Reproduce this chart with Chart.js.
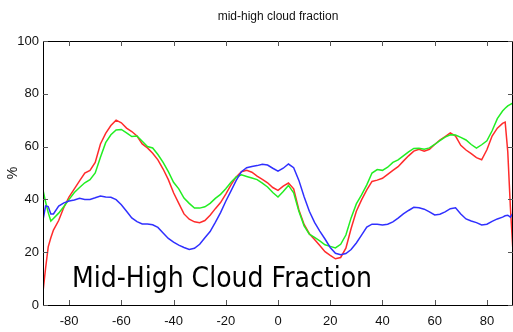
<!DOCTYPE html>
<html>
<head>
<meta charset="utf-8">
<script src="https://cdn.jsdelivr.net/npm/chart.js@4.4.1/dist/chart.umd.min.js"></script>
<style>
  html, body { margin: 0; padding: 0; background: #fff; }
  #wrap { width: 513px; height: 332px; }
</style>
</head>
<body>
<div id="wrap"><canvas id="chart" width="513" height="332"></canvas></div>
<script>
// latitude grid (degrees)
const lats = [-90, -89, -88, -87, -86, -84, -82, -80, -78, -76, -74, -72, -70, -68, -66, -64, -62, -60, -58, -56,
  -54, -52, -50, -48, -46, -44, -42, -40, -38, -36, -34, -32, -30, -28, -26, -24, -22, -20, -18, -16,
  -14, -12, -10, -8, -6, -4, -2, 0, 2, 4, 6, 8, 10, 12, 14, 16, 18, 20, 22, 24,
  26, 28, 30, 32, 34, 36, 38, 40, 42, 44, 46, 48, 50, 52, 54, 56, 58, 60, 62, 64,
  66, 68, 70, 72, 74, 76, 78, 80, 82, 84, 86, 87, 88, 89, 90];

const redSeries = [5, 14, 22, 25.5, 28.4, 32, 37, 41, 44, 47, 50, 51, 54, 61, 65, 68, 70, 69, 67, 65.7,
  64, 61, 59.5, 57.5, 55, 51.5, 47.5, 42.5, 38.5, 34.5, 32.5, 31.5, 31.2, 32, 34, 36.5, 38.8, 42, 45.5, 48.5,
  50.5, 51, 50.3, 48.8, 47.6, 46.3, 44.5, 43.4, 45, 46.2, 44, 36, 30.5, 27, 24.8, 22.5, 20.2, 18.8, 17.5, 18,
  21.5, 29, 35.5, 39.8, 43.6, 46.8, 47.3, 48, 49.5, 51, 52.4, 54.5, 56.5, 58.3, 59, 58.3, 59, 60.8, 62.5, 63.8,
  65.2, 64, 60.5, 58.7, 57.3, 55.8, 55, 58.8, 64, 67, 68.8, 69.3, 58, 37, 20];

const greenSeries = [43.6, 39, 35, 31.8, 32.8, 34.8, 37.3, 40, 42.6, 44.5, 46.3, 47.5, 50, 56, 61.5, 64.5, 66.3, 66.5, 65.2, 63.8,
  64, 62, 60, 59.5, 57, 54, 50.5, 46.5, 44, 40.5, 38.5, 36.7, 36.7, 37.2, 38.5, 40.4, 41.9, 44, 46.5, 48.5,
  49.3, 48.7, 48.1, 47.5, 46.2, 44.7, 42.6, 40.9, 43, 45.3, 42.5, 35.5, 30, 26.8, 25.6, 24.3, 22.8, 22.2, 21.6, 23,
  26.5, 33, 38.3, 41.7, 45.5, 50, 51.3, 51, 52.2, 54, 55, 56.5, 58, 59.3, 59.4, 59, 59.5, 60.8, 62.3, 63.6,
  64.5, 64.4, 63.5, 62.5, 60.8, 59.4, 60.7, 62.2, 66, 70.6, 73.5, 74.5, 75.4, 76, 76.5];

const blueSeries = [32.2, 37.5, 37.3, 34.5, 34.5, 37.5, 38.7, 39.4, 39.8, 40.4, 40, 40, 40.6, 41.3, 40.9, 40.8, 39.9, 38, 35.5, 33,
  31.6, 30.7, 30.7, 30.4, 29.4, 27.3, 25.2, 23.8, 22.7, 21.8, 21, 21.5, 23, 25.5, 27.8, 31.3, 35, 39.3, 43.2, 47.2,
  50.5, 52, 52.5, 52.8, 53.3, 53, 51.8, 50.7, 51.8, 53.4, 52, 47.2, 41, 35.5, 31.3, 28, 25, 21.8, 19.6, 19,
  19.5, 21, 23.5, 26.5, 29.5, 30.6, 30.6, 30.3, 30.6, 31.5, 32.9, 34.5, 35.8, 37, 36.8, 36.3, 35.3, 34.1, 34.4, 35.3,
  36.5, 36.8, 34.5, 32.6, 31.8, 31.2, 30.3, 30.6, 31.7, 32.6, 33.3, 33.8, 34, 33.3, 34.8];

const xTicks = [-80, -60, -40, -20, 0, 20, 40, 60, 80];
const yTicks = [0, 20, 40, 60, 80, 100];

const chartTitle = "mid-high cloud fraction";
const yLabel = "%";
const overlayText = "Mid-High Cloud Fraction";

const narrow = '"Liberation Sans Narrow", "Arial Narrow", "Liberation Sans", Arial, sans-serif';

function toPoints(values) {
  return lats.map((lat, i) => ({ x: lat, y: values[i] }));
}

// frame, inward ticks, title and labels
const decorations = {
  id: "decorations",
  afterDraw(chart) {
    const { ctx, chartArea, scales } = chart;
    const { left, right, top, bottom } = chartArea;
    ctx.save();

    ctx.strokeStyle = "#000";
    ctx.lineWidth = 1;
    ctx.beginPath();
    ctx.moveTo(left + 0.5, top + 0.5);
    ctx.lineTo(right - 0.5, top + 0.5);
    ctx.lineTo(right - 0.5, bottom + 0.5);
    ctx.lineTo(left + 0.5, bottom + 0.5);
    ctx.closePath();
    ctx.stroke();

    ctx.strokeStyle = "#555";
    ctx.beginPath();
    xTicks.forEach((t) => {
      const px = Math.round(scales.x.getPixelForValue(t)) + 0.5;
      ctx.moveTo(px, bottom);
      ctx.lineTo(px, bottom - 5);
      ctx.moveTo(px, top);
      ctx.lineTo(px, top + 5);
    });
    yTicks.forEach((t) => {
      const py = Math.round(scales.y.getPixelForValue(t)) + 0.5;
      ctx.moveTo(left, py);
      ctx.lineTo(left + 5, py);
      ctx.moveTo(right, py);
      ctx.lineTo(right - 5, py);
    });
    ctx.stroke();

    ctx.fillStyle = "#111";
    ctx.font = "12px " + narrow;
    ctx.textAlign = "center";
    ctx.textBaseline = "middle";
    ctx.fillText(chartTitle, (left + right) / 2, 17);

    ctx.save();
    ctx.translate(13, (top + bottom) / 2);
    ctx.rotate(-Math.PI / 2);
    ctx.font = "14px " + narrow;
    ctx.fillText(yLabel, 0, 0);
    ctx.restore();

    // big overlay caption
    ctx.fillStyle = "#000";
    ctx.font = "28px \"DejaVu Sans\", sans-serif";
    ctx.textAlign = "left";
    ctx.textBaseline = "alphabetic";
    const w = ctx.measureText(overlayText).width;
    ctx.translate(72, 287);
    ctx.scale(300 / w, 1);
    ctx.fillText(overlayText, 0, 0);

    ctx.restore();
  },
};

new Chart(document.getElementById("chart"), {
  type: "line",
  data: {
    datasets: [
      { data: toPoints(blueSeries), borderColor: "#3030ff" },
      { data: toPoints(greenSeries), borderColor: "#22ee22" },
      { data: toPoints(redSeries), borderColor: "#ff2b2b" },
    ],
  },
  options: {
    responsive: false,
    animation: false,
    devicePixelRatio: 1,
    layout: { padding: { top: 41, right: 0, left: 0, bottom: 0 } },
    elements: {
      point: { radius: 0 },
      line: { borderWidth: 1.5, tension: 0, fill: false },
    },
    plugins: {
      legend: { display: false },
      title: { display: false },
      tooltip: { enabled: false },
    },
    scales: {
      x: {
        type: "linear",
        min: -90,
        max: 90,
        grid: { display: false, drawTicks: false },
        border: { display: false },
        afterBuildTicks: (scale) => {
          scale.ticks = xTicks.map((v) => ({ value: v }));
        },
        afterFit: (scale) => {
          scale.height = 27;
        },
        ticks: {
          color: "#111",
          font: { family: narrow, size: 13 },
          padding: 9,
          maxRotation: 0,
          autoSkip: false,
        },
      },
      y: {
        min: 0,
        max: 100,
        grid: { display: false, drawTicks: false },
        border: { display: false },
        afterBuildTicks: (scale) => {
          scale.ticks = yTicks.map((v) => ({ value: v }));
        },
        afterFit: (scale) => {
          scale.width = 43;
        },
        ticks: {
          color: "#111",
          font: { family: narrow, size: 13 },
          padding: 4,
        },
      },
    },
  },
  plugins: [decorations],
});
</script>
</body>
</html>
